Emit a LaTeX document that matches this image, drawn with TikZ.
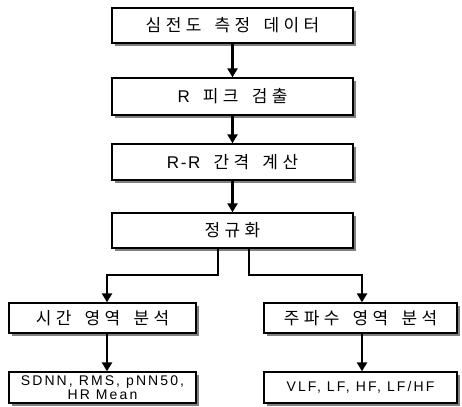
\documentclass[tikz,border=0pt]{standalone}
\usepackage{fontspec}
\setmainfont{Liberation Sans}
\newfontfamily\kr[LetterSpace=26,WordSpace=1.6]{Noto Sans CJK KR}
\newfontfamily\lat[LetterSpace=15]{Liberation Sans}
\newfontfamily\latR[LetterSpace=10]{Liberation Sans}
\usetikzlibrary{arrows.meta,shadows}
\begin{document}
\begin{tikzpicture}[x=1pt,y=-1pt,
  box/.style={draw, line width=1.3pt, fill=white, inner sep=0pt,
    drop shadow={shadow xshift=3pt, shadow yshift=-3pt, fill=black!50, opacity=1},
    font=\kr\fontsize{17}{18}\selectfont},
  latbox/.style={box, font=\lat\fontsize{14}{14}\selectfont, align=center},
  arr/.style={line width=2.4pt, -{Triangle[width=10pt,length=9pt]}}]
\useasboundingbox (0,0) rectangle (462,406);
\node[box, minimum width=241pt, minimum height=35pt] (b1) at (232.5,25.5) {심전도 측정 데이터};
\node[box, minimum width=241pt, minimum height=37pt] (b2) at (232.5,96.5) {{\latR\fontsize{17}{18}\selectfont R} 피크 검출};
\node[box, minimum width=241pt, minimum height=36pt] (b3) at (232.5,162) {{\latR\fontsize{17}{18}\selectfont R-R} 간격 계산};
\node[box, minimum width=241pt, minimum height=35pt] (b4) at (232.5,230.5) {정규화};
\node[box, minimum width=187pt, minimum height=30pt] (b5) at (102.5,318) {시간 영역 분석};
\node[box, minimum width=193pt, minimum height=30pt] (b6) at (360.5,318) {주파수 영역 분석};
\node[latbox, minimum width=187pt, minimum height=31pt] (b7) at (102.5,387.5) {SDNN, RMS, pNN50,\\HR Mean};
\node[latbox, minimum width=193pt, minimum height=31pt] (b8) at (360.5,387.5) {VLF, LF, HF, LF/HF};
\coordinate (L) at (107,275);
\coordinate (R) at (362,275);
\draw[arr] (b1) -- (b2);
\draw[arr] (b2) -- (b3);
\draw[arr] (b3) -- (b4);
\draw[arr] ([xshift=-14.5pt]b4.south) |- (L) -- (L |- b5.north);
\draw[arr] ([xshift=16.5pt]b4.south) |- (R) -- (R |- b6.north);
\draw[arr] (L |- b5.south) -- (L |- b7.north);
\draw[arr] (R |- b6.south) -- (R |- b8.north);
\end{tikzpicture}
\end{document}
